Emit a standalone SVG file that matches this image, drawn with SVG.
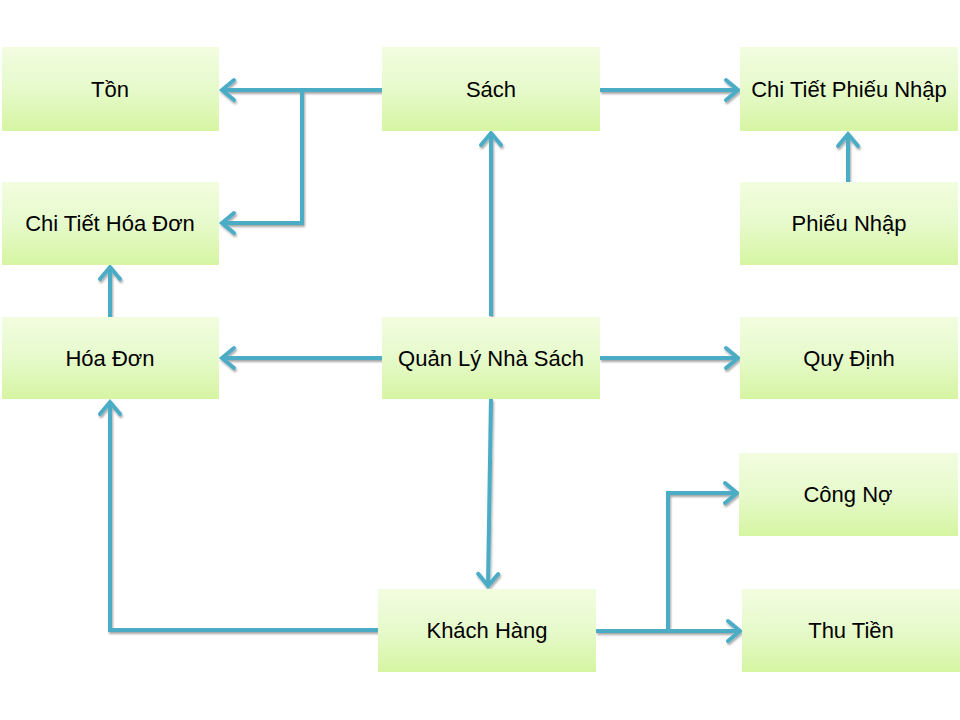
<svg xmlns="http://www.w3.org/2000/svg" width="960" height="720" viewBox="0 0 960 720">
<defs>
<linearGradient id="g" x1="0" y1="0" x2="0" y2="1">
<stop offset="0" stop-color="#f2fde0"/>
<stop offset="0.5" stop-color="#e6facb"/>
<stop offset="1" stop-color="#d6f5a2"/>
</linearGradient>
<marker id="ah" markerUnits="userSpaceOnUse" markerWidth="22" markerHeight="26" viewBox="0 0 22 26" refX="16" refY="13" orient="auto">
<path d="M4,3 L16,13 L4,23" fill="none" stroke="#4bacc6" stroke-width="4" stroke-linecap="round" stroke-linejoin="miter"/>
</marker>
<filter id="sh" x="-10%" y="-10%" width="120%" height="120%">
<feDropShadow dx="1" dy="2" stdDeviation="1" flood-color="#000" flood-opacity="0.35"/>
</filter>
</defs>
<style>
.n rect{fill:url(#g);}
.n text{font-family:"Liberation Sans",Arial,sans-serif;font-size:22px;fill:#000;text-anchor:middle;}
.c path{fill:none;stroke:#4bacc6;stroke-width:4;stroke-linejoin:miter;}
.c .a{marker-end:url(#ah);}
</style>
<rect width="960" height="720" fill="#fff"/>
<g class="c" filter="url(#sh)">
<path class="a" d="M382,90 L222,90"/>
<path class="a" d="M302,90 L302,223 L222,223"/>
<path class="a" d="M600,90 L738,90"/>
<path class="a" d="M848,182 L848,134"/>
<path class="a" d="M110,317 L110,267"/>
<path class="a" d="M382,358 L222,358"/>
<path class="a" d="M491,316 L491,133"/>
<path class="a" d="M600,358 L738,358"/>
<path class="a" d="M491,399 L488,586"/>
<path class="a" d="M378,630 L110,630 L110,402"/>
<path class="a" d="M596,631 L740,631"/>
<path class="a" d="M668,631 L668,493 L737,493"/>
</g>
<g id="ton" class="n"><rect x="2" y="47" width="217" height="84"/><text x="110" y="97">Tồn</text></g>
<g id="sach" class="n"><rect x="382" y="47" width="218" height="84"/><text x="491" y="97">Sách</text></g>
<g id="ctpn" class="n"><rect x="740" y="47" width="218" height="84"/><text x="849" y="97">Chi Tiết Phiếu Nhập</text></g>
<g id="cthd" class="n"><rect x="2" y="182" width="217" height="83"/><text x="110" y="231">Chi Tiết Hóa Đơn</text></g>
<g id="pn" class="n"><rect x="740" y="182" width="218" height="83"/><text x="849" y="231">Phiếu Nhập</text></g>
<g id="hd" class="n"><rect x="2" y="317" width="217" height="82"/><text x="110" y="366">Hóa Đơn</text></g>
<g id="qlns" class="n"><rect x="382" y="317" width="218" height="82"/><text x="491" y="366">Quản Lý Nhà Sách</text></g>
<g id="qd" class="n"><rect x="740" y="317" width="218" height="82"/><text x="849" y="366">Quy Định</text></g>
<g id="cn" class="n"><rect x="739" y="453" width="219" height="83"/><text x="848" y="502">Công Nợ</text></g>
<g id="kh" class="n"><rect x="378" y="589" width="218" height="83"/><text x="487" y="638">Khách Hàng</text></g>
<g id="tt" class="n"><rect x="742" y="589" width="218" height="83"/><text x="851" y="638">Thu Tiền</text></g>
</svg>
